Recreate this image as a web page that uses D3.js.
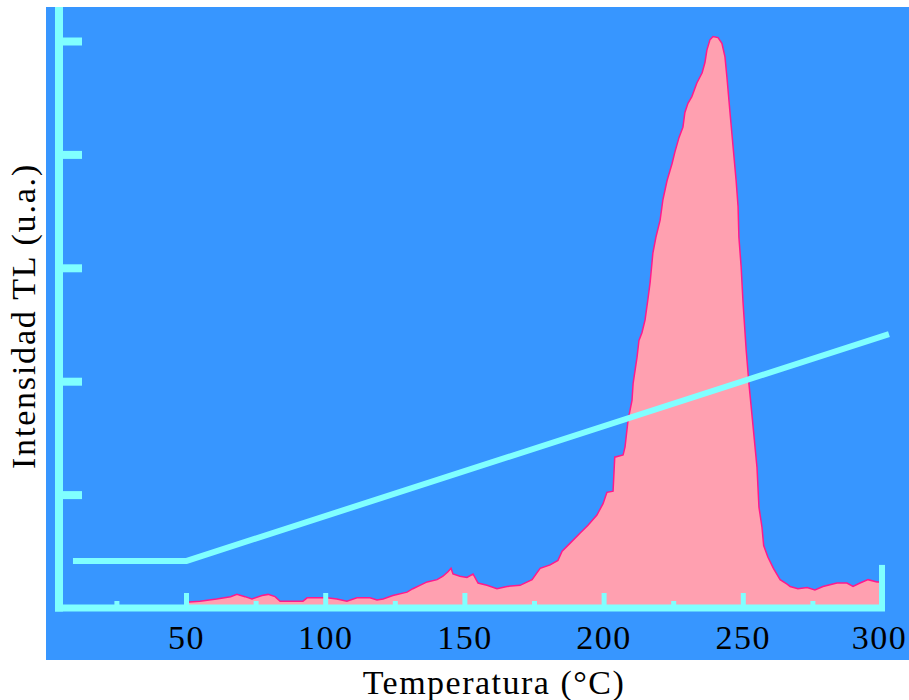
<!DOCTYPE html>
<html>
<head>
<meta charset="utf-8">
<script src="https://cdn.jsdelivr.net/npm/d3@7"></script>
<style>
  html, body { margin: 0; padding: 0; background: #ffffff; }
  svg { display: block; }
  text { font-family: "Liberation Serif", "Times New Roman", serif; fill: #000; }
</style>
</head>
<body>
<svg id="chart" width="909" height="700"></svg>
<script>
// ---- data ----
const tlTemp = [50, 55, 61, 66, 68.3, 71.2, 73.7, 77.3, 79.5, 82, 83.8, 92, 93.5, 100.6, 104.2, 107.8, 111.4, 116.1, 118.6, 120.8,
  124.3, 129.4, 131.5, 134, 136.6, 140.2, 142.3, 144.1, 145.2, 145.9, 148.4, 150.9, 153.1, 154.9, 158.1, 161.7, 165.3, 170,
  174.3, 177.2, 180.8, 183.6, 185.1, 187.9, 191.5, 194.4, 197.6, 199.8, 201.2, 203.4, 204, 207, 207.7, 208.8, 210.2, 210.6,
  212, 212.7, 213.8, 214.9, 215.9, 216.7, 217.7, 218.8, 220.3, 221.3, 222.8, 224.6, 225.6, 227.1, 228.5, 229.2, 230.3, 231.7,
  233.5, 235.4, 236.4, 237.1, 238.2, 239.3, 241.1, 242.5, 243.6, 244.3, 245.4, 246.5, 247.6, 248.3, 248.6, 249.4, 250.1,
  251.2, 252.2, 253.7, 255.1, 255.8, 256.9, 257.5, 259, 261, 263.4, 265.9, 267, 269.8, 273.1, 275.9, 278.8, 283.8, 287.4,
  289.6, 292.1, 295, 298.2, 299.5];
const tlInt = [0.05, 0.06, 0.08, 0.10, 0.12, 0.10, 0.08, 0.11, 0.12, 0.10, 0.06, 0.06, 0.09, 0.09, 0.08, 0.06, 0.09, 0.09, 0.07, 0.08,
  0.11, 0.14, 0.17, 0.20, 0.23, 0.25, 0.28, 0.32, 0.35, 0.30, 0.28, 0.27, 0.30, 0.22, 0.20, 0.17, 0.19, 0.20,
  0.25, 0.35, 0.38, 0.42, 0.50, 0.57, 0.66, 0.73, 0.82, 0.92, 1.02, 1.03, 1.33, 1.35, 1.42, 1.66, 1.83, 1.98,
  2.21, 2.36, 2.43, 2.54, 2.72, 2.87, 3.13, 3.27, 3.42, 3.60, 3.77, 3.92, 4.02, 4.15, 4.24, 4.37, 4.45, 4.51,
  4.63, 4.72, 4.81, 4.92, 5.01, 5.04, 5.03, 4.98, 4.86, 4.68, 4.37, 4.07, 3.77, 3.54, 3.27, 3.01, 2.69,
  2.28, 1.98, 1.60, 1.24, 0.89, 0.71, 0.55, 0.45, 0.35, 0.25, 0.21, 0.19, 0.17, 0.18, 0.16, 0.19, 0.22, 0.22,
  0.19, 0.22, 0.25, 0.23, 0.23];

// heating ramp (temperature programme) drawn on the same panel
const rampTemp = [9.4, 50, 302.5];
const rampInt = [0.414, 0.414, 2.416];

const xMajorTicks = [50, 100, 150, 200, 250, 300];
const xMinorTicks = [25, 75, 125, 175, 225, 275];
const yTicks = [1, 2, 3, 4, 5];
const xEndMarker = [300];
const xEndMarkerHeight = [0.38];

const xTitle = "Temperatura (°C)";
const yTitle = "Intensidad TL (u.a.)";

// ---- layout ----
const W = 909, H = 700;
const panel = { left: 46, top: 7, right: 909, bottom: 660 };
const colBlue = "#3796ff", colCyan = "#80ffff", colFill = "#ffa0b0", colEdge = "#ff1a8c";

const svg = d3.select("#chart");

const x = d3.scaleLinear().domain([0, 300]).range([46.8, 882]);
const y = d3.scaleLinear().domain([0, 5]).range([608, 41]);

// background panel
svg.append("rect")
  .attr("x", panel.left).attr("y", panel.top)
  .attr("width", panel.right - panel.left).attr("height", panel.bottom - panel.top)
  .attr("fill", colBlue);

// TL glow curve (area)
const pts = tlTemp.map((t, i) => [t, tlInt[i]]);
const area = d3.area().x(d => x(d[0])).y0(y(0)).y1(d => y(d[1]));
const line = d3.line().x(d => x(d[0])).y(d => y(d[1]));

svg.append("path").datum(pts).attr("d", area).attr("fill", colFill);
svg.append("path").datum(pts).attr("d", line)
  .attr("fill", "none").attr("stroke", colEdge).attr("stroke-width", 1.5);

// y axis (vertical bar + ticks pointing right)
const axisX = 59;
svg.append("line")
  .attr("x1", axisX).attr("x2", axisX)
  .attr("y1", panel.top).attr("y2", y(0) + 3.5)
  .attr("stroke", colCyan).attr("stroke-width", 8);

const yAxis = svg.append("g").attr("transform", `translate(${axisX},0)`)
  .call(d3.axisRight(y).tickValues(yTicks).tickSize(23).tickFormat(""));
yAxis.select(".domain").remove();
yAxis.selectAll(".tick line").attr("stroke", colCyan).attr("stroke-width", 8);

// x axis line
svg.append("line")
  .attr("x1", 55).attr("x2", 885)
  .attr("y1", y(0)).attr("y2", y(0))
  .attr("stroke", colCyan).attr("stroke-width", 7);

// major x ticks (pointing up) with labels
const xAxis = svg.append("g").attr("transform", `translate(0,${y(0)})`)
  .call(d3.axisBottom(x).tickValues(xMajorTicks).tickSize(-15).tickPadding(17).tickFormat(d3.format("d")));
xAxis.select(".domain").remove();
xAxis.selectAll(".tick line").attr("stroke", colCyan).attr("stroke-width", 5);
xAxis.selectAll(".tick text")
  .style("font-family", "'Liberation Serif', serif")
  .style("font-size", "34px")
  .style("letter-spacing", "1.5px")
  .attr("fill", "#000")
  .attr("dx", d => d === 300 ? -3 : 0);

// minor x ticks
const xMinor = svg.append("g").attr("transform", `translate(0,${y(0)})`)
  .call(d3.axisBottom(x).tickValues(xMinorTicks).tickSize(-7).tickFormat(""));
xMinor.select(".domain").remove();
xMinor.selectAll(".tick line").attr("stroke", colCyan).attr("stroke-width", 5);

// short end bar at the right end of the x axis
svg.selectAll(".endbar").data(xEndMarker).enter().append("line")
  .attr("class", "endbar")
  .attr("x1", d => x(d)).attr("x2", d => x(d))
  .attr("y1", y(0)).attr("y2", (d, i) => y(xEndMarkerHeight[i]))
  .attr("stroke", colCyan).attr("stroke-width", 6);

// heating ramp
const rampPts = rampTemp.map((t, i) => [t, rampInt[i]]);
svg.append("path").datum(rampPts).attr("d", line)
  .attr("fill", "none").attr("stroke", colCyan).attr("stroke-width", 6)
  .attr("stroke-linejoin", "round");

// titles
svg.append("text")
  .attr("x", 494).attr("y", 694)
  .attr("text-anchor", "middle")
  .style("font-size", "34px")
  .style("letter-spacing", "1.5px")
  .text(xTitle);

svg.append("text")
  .attr("transform", "translate(35,316) rotate(-90)")
  .attr("text-anchor", "middle")
  .style("font-size", "34px")
  .style("letter-spacing", "1.8px")
  .text(yTitle);
</script>
</body>
</html>
